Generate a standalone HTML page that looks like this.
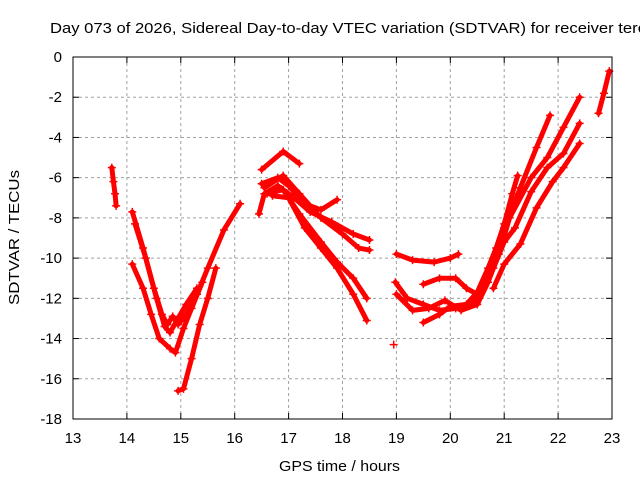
<!DOCTYPE html>
<html><head><meta charset="utf-8"><style>
body{margin:0;background:#fff;overflow:hidden;}
svg{display:block;font-family:"Liberation Sans",sans-serif;}
</style></head><body>
<svg id="chart" width="640" height="480">
<text x="50" y="33" font-size="15" textLength="596" lengthAdjust="spacingAndGlyphs">Day 073 of 2026, Sidereal Day-to-day VTEC variation (SDTVAR) for receiver terc</text>
<text x="279" y="471" font-size="15" textLength="121" lengthAdjust="spacingAndGlyphs">GPS time / hours</text>
<text transform="translate(19,305) rotate(-90)" font-size="15" textLength="135" lengthAdjust="spacingAndGlyphs">SDTVAR / TECUs</text>
<g id="grid"></g><g id="ticks"></g><g id="series"></g>
<rect x="73" y="57" width="539" height="362" fill="none" stroke="#000" stroke-width="1"/>
</svg>
<script>
const xTicks=[13,14,15,16,17,18,19,20,21,22,23];
const yTicks=[0,-2,-4,-6,-8,-10,-12,-14,-16,-18];
const s1=[[13.72,-5.5],[13.75,-6.2],[13.78,-6.8],[13.8,-7.4]];
const sA=[[14.1,-7.7],[14.3,-9.5],[14.5,-11.5],[14.65,-12.8],[14.75,-13.3],[14.85,-12.9],[14.95,-13.3],[15.1,-12.8],[15.3,-11.8],[15.5,-10.5],[15.8,-8.6],[16.1,-7.3]];
const sB=[[14.15,-8.3],[14.35,-10],[14.55,-12],[14.7,-13.4],[14.8,-13.7],[14.95,-13],[15.1,-12.3],[15.3,-11.5]];
const sC=[[14.1,-10.3],[14.3,-11.5],[14.45,-12.8],[14.6,-14],[14.8,-14.5],[14.9,-14.7],[15.05,-13.5],[15.2,-12.5],[15.4,-11.2]];
const sD=[[14.95,-16.6],[15.05,-16.5],[15.2,-15],[15.35,-13.3],[15.5,-12],[15.65,-10.5]];
const sE=[[16.5,-5.6],[16.9,-4.7],[17.2,-5.3]];
const sF=[[16.5,-6.3],[16.8,-6],[17.0,-6.4],[17.3,-7.3],[17.6,-7.6],[17.9,-7.1]];
const sG=[[16.45,-7.8],[16.55,-6.8],[16.8,-6.4],[17.1,-7.0],[17.4,-7.7],[17.8,-8.2],[18.2,-8.8],[18.5,-9.1]];
const sH=[[16.55,-6.5],[16.9,-5.9],[17.2,-6.8],[17.6,-8],[18.0,-8.8],[18.3,-9.5],[18.5,-9.6]];
const sI=[[16.6,-6.8],[16.9,-6.6],[17.2,-7.8],[17.6,-9.2],[17.9,-10.2],[18.2,-11],[18.45,-12]];
const sJ=[[16.7,-6.9],[17.0,-7.0],[17.3,-8.5],[17.6,-9.5],[17.9,-10.5],[18.2,-11.8],[18.45,-13.1]];
const sK=[[19,-9.8],[19.3,-10.1],[19.7,-10.2],[20,-10],[20.15,-9.8]];
const sL1=[[18.98,-11.2],[19.2,-12],[19.5,-12.3],[19.8,-12.6],[20.1,-12.5],[20.4,-12.3],[20.6,-11.5],[20.8,-10.3],[21.0,-8.5],[21.3,-6.5],[21.6,-4.5],[21.85,-2.9]];
const sL2=[[19,-11.8],[19.3,-12.6],[19.6,-12.5],[19.9,-12.1],[20.2,-12.6],[20.5,-12.3],[20.7,-11.2],[20.9,-9.8],[21.1,-8],[21.5,-6],[21.8,-5],[22.1,-3.5],[22.4,-2.0]];
const sL3=[[19.5,-11.3],[19.8,-11],[20.1,-11],[20.3,-11.5],[20.5,-11.8],[20.8,-10.5],[21.0,-9.2],[21.2,-8.5],[21.5,-6.7],[21.8,-5.5],[22.1,-4.8],[22.4,-3.3]];
const sL4=[[19.5,-13.2],[19.8,-12.8],[20,-12.4],[20.3,-12.3],[20.5,-11.7],[20.7,-10.5],[20.85,-9.5],[21.0,-8.3],[21.15,-6.8],[21.25,-5.9]];
const sP=[[20.8,-11.5],[21.0,-10.3],[21.3,-9.3],[21.6,-7.5],[21.9,-6.2],[22.1,-5.5],[22.4,-4.3]];
const sQ=[[22.75,-2.8],[22.85,-1.8],[22.95,-0.7]];
const sDot=[[18.95,-14.3]];
const allSeries=[s1,sA,sB,sC,sD,sE,sF,sG,sH,sI,sJ,sK,sL1,sL2,sL3,sL4,sP,sQ,sDot];
const X=h=>73+(h-13)*53.9;
const Y=v=>57-v*20.11;
const NS="http://www.w3.org/2000/svg";
const grid=document.getElementById('grid'),ticks=document.getElementById('ticks'),ser=document.getElementById('series');
function mk(tag,attrs,parent){const e=document.createElementNS(NS,tag);for(const k in attrs)e.setAttribute(k,attrs[k]);parent.appendChild(e);return e;}
xTicks.forEach(t=>{const x=X(t);
 if(t>13&&t<23){const g=mk('line',{x1:x,x2:x,y1:57,y2:419,stroke:'#a0a0a0','stroke-dasharray':'3,3'},grid);
 
 }
 mk('line',{x1:x,x2:x,y1:419,y2:413,stroke:'#000'},ticks);mk('line',{x1:x,x2:x,y1:57,y2:63,stroke:'#000'},ticks);
 const l=mk('text',{x:x,y:443,'font-size':15,'text-anchor':'middle'},ticks);l.textContent=t;
 
 });
yTicks.forEach(t=>{const y=Y(t);
 if(t<0&&t>-18){const g=mk('line',{x1:73,x2:612,y1:y,y2:y,stroke:'#a0a0a0','stroke-dasharray':'3,3'},grid);
 
 }
 mk('line',{x1:73,x2:79,y1:y,y2:y,stroke:'#000'},ticks);mk('line',{x1:612,x2:606,y1:y,y2:y,stroke:'#000'},ticks);
 const l=mk('text',{x:62,y:y+5,'font-size':15,'text-anchor':'end'},ticks);l.textContent=t;
 
 });
allSeries.forEach((s,i)=>{
 const p=mk('polyline',{points:s.map(d=>X(d[0])+','+Y(d[1])).join(' '),fill:'none',stroke:'#ff0000','stroke-width':5,'stroke-linejoin':'round','stroke-linecap':'round'},ser);
 
 
 s.forEach(d=>{const x=X(d[0]),y=Y(d[1]);
  const m=mk('path',{d:`M${x-4},${y}H${x+4}M${x},${y-4}V${y+4}`,stroke:'#ff0000','stroke-width':1.5},ser);
  
  });
});
</script>
</body></html>
